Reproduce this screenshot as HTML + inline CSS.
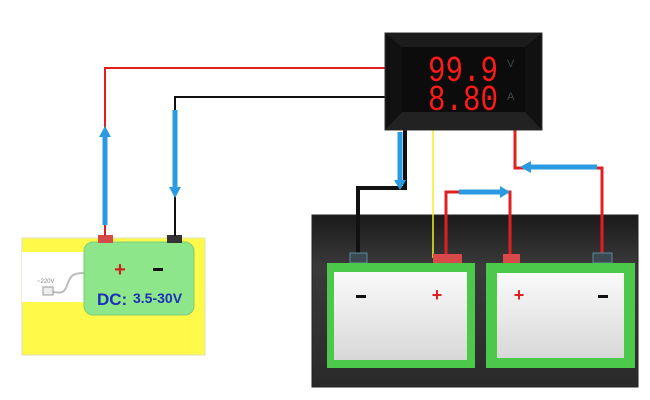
<!DOCTYPE html>
<html><head><meta charset="utf-8"><style>html,body{margin:0;padding:0;background:#fff}svg{display:block}</style></head>
<body>
<svg width="650" height="400" viewBox="0 0 650 400" xmlns="http://www.w3.org/2000/svg" font-family="Liberation Sans, sans-serif">
<defs>
<linearGradient id="panel" x1="0" y1="0" x2="0" y2="1"><stop offset="0" stop-color="#1a1a1a"/><stop offset="0.3" stop-color="#3a3a3a"/><stop offset="1" stop-color="#2a2a2a"/></linearGradient>
<linearGradient id="bat" x1="0" y1="0" x2="0" y2="1"><stop offset="0" stop-color="#fafafa"/><stop offset="1" stop-color="#d8d8d8"/></linearGradient>
</defs>
<rect x="22" y="238" width="183" height="117" fill="#fff94a" stroke="#e0e0b0"/>
<rect x="22" y="252" width="65" height="50" fill="#fff"/>
<path d="M84 273 C70 273 70 278 66 288 C62 295 58 292 52 292" stroke="#bbb" stroke-width="2" fill="none"/>
<rect x="43" y="287" width="10" height="8" fill="#eee" stroke="#999"/>
<text x="37" y="283" font-size="6" fill="#888">~220V</text>
<rect x="84" y="242" width="110" height="73" rx="9" fill="#8ee68a" stroke="#7ccf78"/>
<rect x="98" y="235" width="15" height="8" fill="#d64a4a"/>
<rect x="167" y="235" width="15" height="8" fill="#333"/>
<text x="120" y="276" font-size="20" fill="#c8261c" text-anchor="middle" font-weight="bold">+</text>
<rect x="153" y="268" width="10" height="3" fill="#111"/>
<text x="97" y="305" font-size="17" font-weight="bold" fill="#1d2fb8">DC:</text>
<text x="133" y="303" font-size="14" font-weight="bold" fill="#1d2fb8">3.5-30V</text>
<polyline points="105,236 105,68 386,68" fill="none" stroke="#e02020" stroke-width="2"/>
<polyline points="175,236 175,97 386,97" fill="none" stroke="#111" stroke-width="2"/>
<line x1="105" y1="225" x2="105" y2="136" stroke="#2a9be0" stroke-width="5"/>
<polygon points="99,137 111,137 105,126" fill="#2a9be0"/>
<line x1="175" y1="110" x2="175" y2="188" stroke="#2a9be0" stroke-width="5"/>
<polygon points="169,187 181,187 175,198" fill="#2a9be0"/>
<rect x="312" y="215" width="326" height="172" fill="url(#panel)" stroke="#222"/>
<polyline points="405,130 405,188 358,188 358,258" fill="none" stroke="#111" stroke-width="4"/>
<line x1="400" y1="132" x2="400" y2="180" stroke="#2a9be0" stroke-width="5"/>
<polygon points="394,180 406,180 400,190" fill="#2a9be0"/>
<line x1="433" y1="130" x2="433" y2="258" stroke="#f5f020" stroke-width="1.5"/>
<polyline points="446,258 446,192 510,192 510,258" fill="none" stroke="#e02020" stroke-width="3"/>
<line x1="459" y1="192" x2="500" y2="192" stroke="#2a9be0" stroke-width="5"/>
<polygon points="500,186 500,198 510,192" fill="#2a9be0"/>
<polyline points="515,130 515,168 602,168 602,258" fill="none" stroke="#e02020" stroke-width="3"/>
<line x1="597" y1="167" x2="530" y2="167" stroke="#2a9be0" stroke-width="5"/>
<polygon points="531,161 531,173 520,167" fill="#2a9be0"/>
<rect x="350" y="253" width="17" height="10" fill="#3a4a50" stroke="#5a8a9a"/>
<rect x="433" y="254" width="29" height="9" fill="#d84a4a"/>
<rect x="503" y="254" width="17" height="9" fill="#d84a4a"/>
<rect x="593" y="253" width="19" height="10" fill="#3a4a50" stroke="#5a8a9a"/>
<rect x="327" y="263" width="148" height="105" fill="#4cc84a"/>
<rect x="334" y="272" width="133" height="88" fill="url(#bat)"/>
<rect x="486" y="263" width="149" height="105" fill="#4cc84a"/>
<rect x="497" y="273" width="127" height="85" fill="url(#bat)"/>
<rect x="356" y="295" width="10" height="3" fill="#111"/>
<text x="437" y="301" font-size="18" fill="#e02020" text-anchor="middle" font-weight="bold">+</text>
<text x="519" y="301" font-size="18" fill="#e02020" text-anchor="middle" font-weight="bold">+</text>
<rect x="598" y="295" width="10" height="3" fill="#111"/>
<rect x="385" y="33" width="157" height="97" fill="#111" stroke="#333"/>
<polygon points="385,33 542,33 525,47 402,47" fill="#1c1c1c"/>
<polygon points="385,130 542,130 525,112 402,112" fill="#222"/>
<rect x="402" y="47" width="123" height="65" fill="#0c0c0c"/>
<text x="428" y="81" font-size="36" fill="#ff1a1a" font-family="Liberation Mono, monospace" textLength="70" lengthAdjust="spacingAndGlyphs">99.9</text>
<text x="428" y="110" font-size="36" fill="#ff1a1a" font-family="Liberation Mono, monospace" textLength="70" lengthAdjust="spacingAndGlyphs">8.80</text>
<text x="507" y="67" font-size="11" fill="#444">V</text>
<text x="507" y="100" font-size="11" fill="#444">A</text>
</svg>
</body></html>
